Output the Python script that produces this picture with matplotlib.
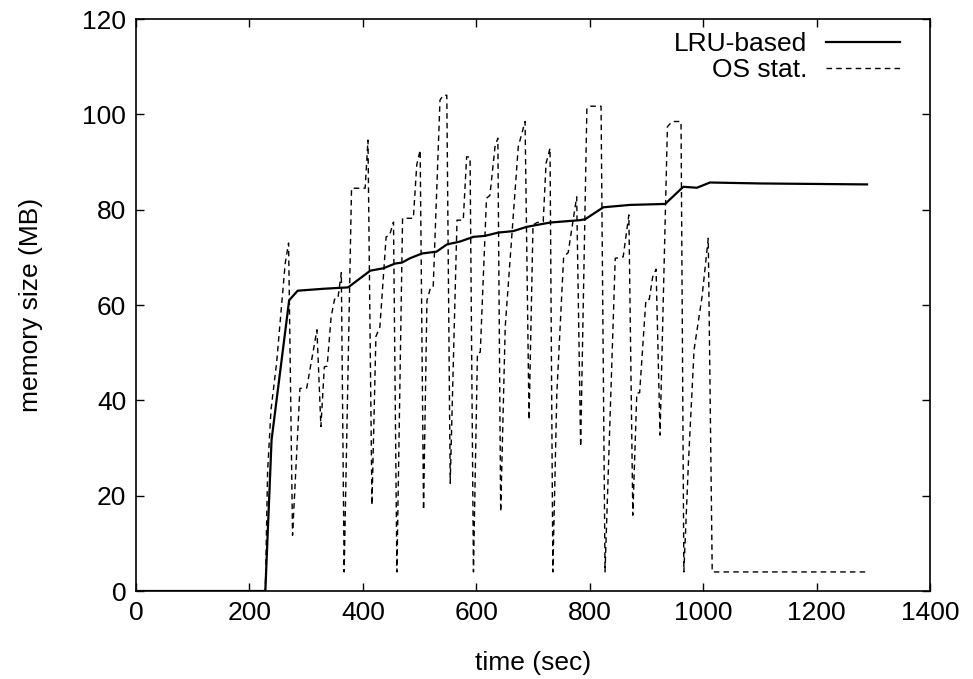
import matplotlib
matplotlib.use("Agg")
import matplotlib.pyplot as plt

plt.rcParams['font.family'] = ['Liberation Sans', 'DejaVu Sans']

# LRU-based estimate
lru_time = [0, 228, 239, 270, 285, 330, 374, 413, 436, 457, 469, 483, 504, 530, 548,
            571, 595, 615, 639, 665, 689, 730, 783, 792, 824, 871, 933, 965, 989, 1012,
            1101, 1289]
lru_mem = [0, 0, 31.7, 61, 63, 63.4, 63.7, 67.2, 67.7, 68.7, 68.9, 69.8, 70.8, 71.2, 72.7,
           73.3, 74.3, 74.5, 75.2, 75.5, 76.4, 77.3, 77.8, 78, 80.5, 81, 81.2, 84.8, 84.6, 85.7,
           85.5, 85.3]

# OS statistics
os_time = [0, 228, 232, 238, 248, 263, 269, 276, 289, 301, 319, 326, 332, 337, 344, 350,
           356, 362, 367, 380, 404, 409, 416, 423, 430, 441, 447, 454, 460, 470, 489,
           495, 501, 507, 513, 519, 524, 536, 542, 548, 554, 566, 577, 583, 589, 595,
           602, 607, 618, 624, 633, 638, 643, 651, 674, 686, 693, 700, 707, 718, 723,
           730, 735, 742, 754, 762, 777, 784, 795, 801, 820, 827, 845, 859, 869, 876,
           883, 888, 899, 905, 911, 917, 924, 937, 945, 961, 966, 974, 984, 998, 1009,
           1016, 1289]
os_mem = [0, 0, 25, 38, 48, 68.7, 73, 11.7, 42.5, 42.6, 54.8, 34.5, 47, 47.2, 57.5, 61.2,
          61.4, 66.8, 4, 84.5, 84.5, 94.6, 18, 53.4, 55.4, 74.3, 74.6, 77.4, 4, 78.2, 78.2,
          89.4, 92.5, 17, 61, 63.5, 63.7, 103, 104, 104, 22.6, 77.8, 77.8, 91.1, 91, 4,
          49.9, 50.1, 82.4, 83, 93.2, 95, 16.6, 55.4, 93.2, 98.5, 35.9, 76.8, 77.3, 77.5, 89.7,
          92.9, 4, 41.5, 70.1, 71, 82.7, 30.3, 101.3, 101.7, 101.7, 4, 69.8, 70.1, 78.9, 15.9,
          41.5, 41.6, 61, 61.2, 65.9, 67.5, 32.7, 97.4, 98.5, 98.5, 4, 26.8, 50.6, 61.7, 74,
          4, 4]

fig = plt.figure(figsize=(9.73, 6.79), dpi=100)
ax = fig.add_axes([0.1398, 0.1296, 0.816, 0.8424])
ax.plot(lru_time, lru_mem, color='black', linewidth=1.6, label="LRU-based")
ax.plot(os_time, os_mem, color='black', linewidth=1.0, linestyle=(0, (4, 3)), label="OS stat.")

ax.set_xlim(0, 1400)
ax.set_ylim(0, 120)
ax.set_xticks(range(0, 1401, 200))
ax.set_yticks(range(0, 121, 20))
ax.tick_params(direction='in', top=True, right=True, length=6, width=1, labelsize=19, pad=7)
for s in ax.spines.values():
    s.set_linewidth(1.2)
ax.set_xlabel("time (sec)", fontsize=19, labelpad=19)
ax.set_ylabel("memory size (MB)", fontsize=19, labelpad=28)
ax.legend(loc='upper right', frameon=False, markerfirst=False, fontsize=19,
          handlelength=2.8, handletextpad=0.7, labelspacing=0.05,
          borderaxespad=0.0, bbox_to_anchor=(0.975, 0.995))

fig.savefig("out.png", dpi=100)
